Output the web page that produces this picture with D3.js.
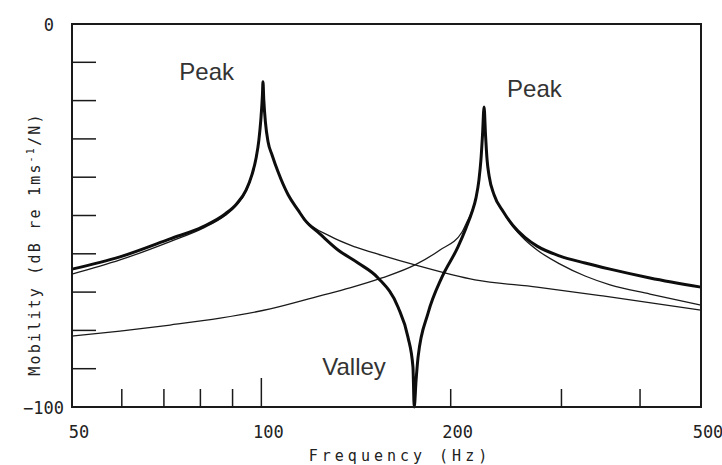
<!DOCTYPE html>
<html lang="en">
<head>
	<meta charset="utf-8">
	<title>mobility two modes</title>
	<script src="https://d3js.org/d3.v7.min.js"></script>
	<style type="text/css">
		body { margin: 0; background: #fff; }
		.tickLabel { font-family: "DejaVu Sans Mono", monospace; font-size: 17px; fill: #222; }
		.axisTitle { font-family: "DejaVu Sans Mono", monospace; font-size: 15px; fill: #222; }
		.note { font-family: "Liberation Sans", Arial, sans-serif; font-size: 24px; fill: #333; }
	</style>
</head>
<body>
	<svg id="placeholder1"></svg>

	<script type="text/javascript">
		//============================================================
		//                          data
		//============================================================

		// total response (thick line): [frequency Hz, dB]
		var totalCurve = [
			[50, -64.0], [59.6, -60.8], [71.6, -56.1], [80.8, -52.9], [87.6, -49.6],
			[91.4, -46.9], [94.6, -43.3], [96.6, -39.4], [98.1, -35.0], [99.1, -30.3],
			[99.8, -25.1], [100.4, -18.5], [100.6, -15.1],
			[100.9, -19.8], [101.5, -25.6], [102.5, -30.8], [104.0, -34.2], [106.3, -38.6],
			[110.3, -44.6], [114.4, -48.6], [117.3, -51.2],
			[123.9, -54.8], [132.4, -59.0], [142.5, -62.4], [153.3, -66.3], [164.9, -73.9],
			[171.0, -81.7], [174.2, -89.6], [175.0, -100],
			[176.2, -93.0], [177.5, -86.9], [184.1, -75.5], [193.7, -66.1], [205.4, -58.2],
			[211.5, -53.3], [216.2, -49.1], [219.4, -45.4], [221.8, -40.7], [223.4, -35.5],
			[224.7, -29.0], [226.0, -21.7],
			[227.2, -29.0], [228.5, -35.5], [230.2, -39.7], [234.4, -44.6], [242.2, -48.9],
			[251.2, -52.6], [262.7, -55.8], [274.4, -58.0], [298.5, -60.6], [327.1, -62.4],
			[358.4, -64.0], [414.8, -66.3], [500, -68.7]
		]

		// first mode alone (thin line)
		var mode1Curve = [
			[50, -65.3], [59.6, -61.6], [71.6, -56.8], [80.8, -53.3], [87.6, -50.0],
			[91.4, -47.3], [94.6, -43.6], [96.6, -39.6], [98.1, -35.1], [99.1, -30.3],
			[99.8, -25.1], [100.4, -18.5], [100.6, -15.1],
			[100.9, -19.8], [101.5, -25.6], [102.5, -30.8], [104.0, -34.2], [106.3, -38.6],
			[110.3, -44.6], [114.4, -48.5], [117.3, -51.0],
			[128.6, -55.4], [140.9, -58.2], [155.5, -60.4], [175.5, -62.9], [218.6, -66.8],
			[274.4, -68.7], [349, -71.0], [500, -74.7]
		]

		// second mode alone (thin line)
		var mode2Curve = [
			[50, -81.5], [59.6, -80.2], [71.6, -78.6], [86, -76.8], [103.3, -74.4],
			[123.9, -71.0], [138.3, -68.9], [155.5, -66.3], [175.5, -62.9], [192.3, -59.0],
			[208.5, -54.3], [211.5, -52.2], [216.2, -48.8], [219.4, -45.2], [221.8, -40.7],
			[223.4, -35.5], [224.7, -29.0], [226.0, -21.7],
			[227.2, -29.0], [228.5, -35.5], [230.2, -39.7], [234.4, -44.6], [242.2, -49.0],
			[251.2, -52.9], [262.7, -56.4], [274.4, -59.0], [298.5, -62.7], [327.1, -65.8],
			[358.4, -68.1], [414.8, -70.5], [500, -73.4]
		]

		var xMajorTicks = [60, 70, 80, 90, 100, 200, 300, 400]
		var xTickLabels = [50, 100, 200, 500]
		var yTicks = [-10, -20, -30, -40, -50, -60, -70, -80, -90]
		var yTickLabels = [0, -100]

		var notes = [
			{text: "Peak", f: 100, db: -15},
			{text: "Peak", f: 226, db: -21.7},
			{text: "Valley", f: 175, db: -100}
		]

		//============================================================
		//                          init
		//============================================================

		var wholeW = 722
		var wholeH = 465
		var ink = "#1a1a1a"

		var xScale = d3.scaleLog().domain([50, 500]).range([72, 701])
		var yScale = d3.scaleLinear().domain([-100, 0]).range([407, 24])

		var line = d3.line()
			.curve(d3.curveMonotoneX)
			.x(d => xScale(d[0]))
			.y(d => yScale(d[1]))

		var svg = d3.select("#placeholder1")
			.attr("width", wholeW)
			.attr("height", wholeH)

		//============================================================
		//                          draw
		//============================================================

		// curves: thin modes first, thick total on top
		svg.append("path")
			.attr("d", line(mode1Curve))
			.attr("fill", "none").attr("stroke", ink).attr("stroke-width", 1.3)

		svg.append("path")
			.attr("d", line(mode2Curve))
			.attr("fill", "none").attr("stroke", ink).attr("stroke-width", 1.3)

		svg.append("path")
			.attr("d", line(totalCurve))
			.attr("fill", "none").attr("stroke", "#0d0d0d").attr("stroke-width", 3)
			.attr("stroke-linejoin", "round")

		// frame
		var x0 = xScale.range()[0], x1 = xScale.range()[1]
		var yTop = yScale(0), yBot = yScale(-100)
		svg.append("path")
			.attr("d", "M" + x0 + "," + yTop + "H" + x1 + "V" + yBot + "H" + x0 + "Z")
			.attr("fill", "none").attr("stroke", ink).attr("stroke-width", 2)

		// inward ticks
		svg.selectAll(".yTick").data(yTicks).enter().append("line")
			.attr("class", "yTick")
			.attr("x1", x0).attr("x2", x0 + 24)
			.attr("y1", d => yScale(d)).attr("y2", d => yScale(d))
			.attr("stroke", ink).attr("stroke-width", 1.5)

		svg.selectAll(".xTick").data(xMajorTicks).enter().append("line")
			.attr("class", "xTick")
			.attr("x1", d => xScale(d)).attr("x2", d => xScale(d))
			.attr("y1", yBot).attr("y2", d => yBot - (d === 100 ? 29 : 18))
			.attr("stroke", ink).attr("stroke-width", 1.5)

		// tick labels
		svg.selectAll(".xLab").data(xTickLabels).enter().append("text")
			.attr("class", "tickLabel")
			.attr("x", d => xScale(d) + 7)
			.attr("y", 438)
			.attr("text-anchor", "middle")
			.text(d => d)

		svg.selectAll(".yLab").data(yTickLabels).enter().append("text")
			.attr("class", "tickLabel")
			.attr("x", d => d === 0 ? 54 : 64)
			.attr("y", d => yScale(d) + 7)
			.attr("text-anchor", "end")
			.text(d => d === 0 ? "0" : "\u2212100")

		// axis titles
		svg.append("text")
			.attr("class", "axisTitle")
			.attr("x", 400).attr("y", 461)
			.attr("text-anchor", "middle")
			.style("letter-spacing", "4px")
			.text("Frequency (Hz)")

		var yTitle = svg.append("text")
			.attr("class", "axisTitle")
			.attr("transform", "translate(40,244) rotate(-90)")
			.attr("text-anchor", "middle")
			.style("letter-spacing", "2.2px")
		yTitle.append("tspan").text("Mobility (dB re 1ms")
		yTitle.append("tspan").attr("dy", -6).style("font-size", "10px").text("-1")
		yTitle.append("tspan").attr("dy", 6).text("/N)")

		// annotations
		var noteDx = [-82, 23, -92]
		var noteY = [80, 97, 375]
		svg.selectAll(".note").data(notes).enter().append("text")
			.attr("class", "note")
			.attr("x", (d, i) => xScale(d.f) + noteDx[i])
			.attr("y", (d, i) => noteY[i])
			.text(d => d.text)
	</script>
</body>
</html>
